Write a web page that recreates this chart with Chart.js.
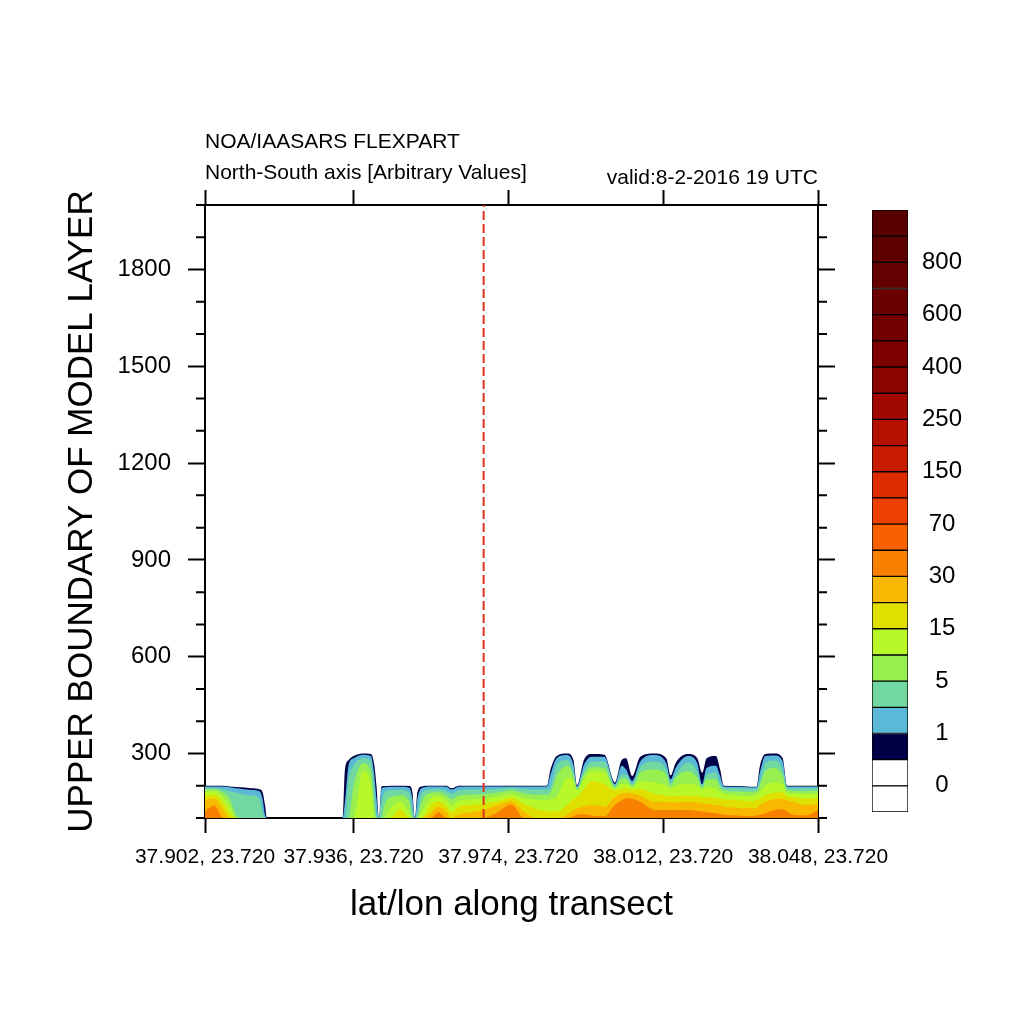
<!DOCTYPE html>
<html>
<head>
<meta charset="utf-8">
<title>FLEXPART transect</title>
<script src="https://cdn.jsdelivr.net/npm/chart.js@4.4.1/dist/chart.umd.min.js"></script>
<style>
  body { margin: 0; background: #fff; }
  canvas { position: absolute; left: 0; top: 0; }
</style>
</head>
<body>
<canvas id="sectionChart" width="1024" height="1024"></canvas>
<canvas id="colorbarChart" width="1024" height="1024"></canvas>
<script>
// grid index along the transect (0..99)
const xIndex = [0, 1.5, 3, 4, 5, 6, 7.5, 8.8, 9.3, 9.7,
  10, 22.2, 22.6, 23.2, 24, 25.5, 26.8, 27.3, 27.7, 28.1,
  28.5, 29, 30, 31.5, 33, 33.5, 33.9, 34.3, 35, 36.5,
  37.7, 39, 39.8, 41, 43, 45, 47, 49.5, 51.5, 53.5,
  55.2, 55.8, 56.8, 58.5, 59.5, 60.1, 61.2, 62.5, 64.5, 66.2,
  67.3, 68, 69, 70.3, 72.5, 74.5, 75.2, 76, 78, 79.5,
  80.3, 81, 82.5, 83.2, 83.8, 86, 88, 89.1, 89.6, 90.5,
  92, 93.3, 94, 95, 97, 99];
const xTickIndex = [0, 24, 49, 74, 99];
const xTickLabels = ['37.902, 23.720', '37.936, 23.720', '37.974, 23.720', '38.012, 23.720', '38.048, 23.720'];
const releaseIndex = 45;

// highest level (m) reached by each concentration class at every grid index
const top05 = [200, 200, 200, 198, 196, 195, 192, 189, 180, 140,
  100, 100, 250, 280, 292, 300, 298, 270, 200, 100,
  198, 199, 200, 200, 199, 180, 100, 180, 198, 200,
  200, 200, 192, 200, 200, 200, 200, 200, 200, 200,
  200, 250, 292, 300, 280, 202, 280, 298, 296, 210,
  280, 285, 230, 290, 300, 285, 232, 270, 298, 285,
  240, 285, 292, 250, 200, 199, 197, 197, 260, 298,
  300, 285, 200, 200, 200, 200];
const top1 = [198, 198, 198, 195, 192, 190, 187, 183, 160, 110,
  100, 100, 150, 265, 285, 296, 292, 240, 160, 100,
  190, 195, 197, 197, 194, 160, 100, 160, 193, 198,
  198, 197, 188, 197, 198, 198, 198, 198, 198, 198,
  198, 235, 285, 295, 265, 198, 265, 290, 290, 205,
  262, 250, 215, 275, 295, 270, 220, 255, 292, 270,
  205, 255, 262, 230, 198, 197, 195, 195, 240, 292,
  294, 275, 198, 198, 198, 198];
const top3 = [191, 192, 188, 183, 178, 174, 170, 160, 120, 100,
  100, 100, 100, 220, 262, 285, 275, 200, 110, 100,
  150, 180, 186, 187, 178, 120, 100, 120, 178, 188,
  191, 184, 176, 186, 188, 188, 190, 194, 190, 188,
  188, 195, 265, 280, 245, 194, 245, 275, 275, 200,
  235, 235, 205, 258, 275, 250, 210, 235, 272, 245,
  200, 235, 240, 205, 193, 192, 190, 190, 215, 270,
  278, 250, 193, 192, 192, 193];
const top5 = [188, 190, 178, 158, 110, 100, 100, 100, 100, 100,
  100, 100, 100, 100, 200, 270, 245, 150, 100, 100,
  100, 140, 165, 170, 150, 100, 100, 100, 150, 178,
  180, 170, 158, 170, 173, 174, 178, 185, 177, 172,
  172, 178, 230, 262, 230, 190, 235, 258, 255, 195,
  222, 222, 200, 240, 250, 235, 200, 225, 245, 225,
  195, 220, 220, 195, 185, 182, 180, 182, 200, 245,
  255, 230, 185, 184, 183, 185];
const top10 = [180, 182, 162, 135, 100, 100, 100, 100, 100, 100,
  100, 100, 100, 100, 100, 245, 200, 100, 100, 100,
  100, 100, 130, 152, 115, 100, 100, 100, 120, 162,
  168, 154, 140, 154, 157, 160, 165, 174, 162, 156,
  156, 158, 165, 225, 215, 185, 222, 245, 240, 190,
  205, 205, 195, 215, 210, 200, 190, 200, 205, 200,
  188, 195, 190, 182, 175, 170, 168, 172, 180, 200,
  210, 205, 178, 176, 174, 176];
const top15 = [169, 172, 145, 115, 100, 100, 100, 100, 100, 100,
  100, 100, 100, 100, 100, 100, 100, 100, 100, 100,
  100, 100, 100, 128, 100, 100, 100, 100, 100, 140,
  152, 136, 118, 136, 140, 144, 150, 162, 144, 128,
  122, 120, 120, 140, 160, 165, 190, 215, 205, 185,
  190, 192, 188, 190, 175, 170, 168, 168, 170, 168,
  165, 165, 162, 160, 158, 155, 152, 155, 160, 170,
  178, 180, 168, 165, 160, 162];
const top20 = [155, 160, 125, 100, 100, 100, 100, 100, 100, 100,
  100, 100, 100, 100, 100, 100, 100, 100, 100, 100,
  100, 100, 100, 100, 100, 100, 100, 100, 100, 115,
  135, 118, 100, 112, 118, 125, 138, 152, 120, 100,
  100, 100, 100, 110, 125, 130, 135, 140, 135, 165,
  175, 178, 176, 170, 150, 150, 148, 148, 150, 148,
  145, 145, 140, 138, 135, 132, 130, 132, 140, 150,
  158, 160, 155, 150, 140, 145];
const top30 = [122, 138, 100, 100, 100, 100, 100, 100, 100, 100,
  100, 100, 100, 100, 100, 100, 100, 100, 100, 100,
  100, 100, 100, 100, 100, 100, 100, 100, 100, 100,
  118, 100, 100, 100, 100, 100, 115, 142, 100, 100,
  100, 100, 100, 100, 105, 110, 112, 108, 105, 140,
  155, 162, 160, 150, 125, 125, 125, 125, 125, 122,
  120, 118, 115, 112, 110, 108, 105, 108, 110, 115,
  125, 128, 120, 110, 108, 125];

// colorbar: label text and the box edge it sits on
const cbLabelEdge = [1, 3, 5, 7, 9, 11, 13, 15, 17, 19, 21];
const cbLabels = ['0', '1', '5', '15', '30', '70', '150', '250', '400', '600', '800'];

const classes = [top05, top1, top3, top5, top10, top15, top20, top30];
const classColors = ['#000046', '#5ab9d6', '#70d8a0', '#98f050', '#b8f828', '#e0e000', '#f8b800', '#f88000'];
const cbColors = ['#ffffff', '#ffffff', '#000046', '#5ab9d6', '#70d8a0', '#98f050', '#b8f828', '#e0e000',
  '#f8b800', '#f88000', '#f86000', '#ee4000', '#dc2c00', '#c81c00', '#b41000', '#a00800',
  '#8a0400', '#7c0000', '#720000', '#6a0000', '#640000', '#5e0000', '#580000'];

Chart.defaults.font.family = "'Liberation Sans', Arial, sans-serif";
Chart.defaults.color = '#000';

const datasets = classes.map((h, k) => ({
  data: h.map((v, i) => ({ x: xIndex[i], y: v })),
  backgroundColor: classColors[k],
  borderWidth: 0,
  pointRadius: 0,
  fill: 'start',
  cubicInterpolationMode: 'monotone',
  order: classes.length - k
}));

datasets.push({
  data: [{ x: releaseIndex, y: 100 }, { x: releaseIndex, y: 2000 }],
  borderColor: '#e0301e',
  borderWidth: 2,
  borderDash: [9, 4],
  pointRadius: 0,
  fill: false,
  order: 0
});

const majorTick = c => (c.tick && c.tick.value % 300 === 0) ? '#000' : 'rgba(0,0,0,0)';

// short ticks every 100 m on both sides
const minorTicks = {
  id: 'minorTicks',
  afterDraw(chart) {
    const { ctx, chartArea, scales: { y } } = chart;
    ctx.save();
    ctx.strokeStyle = '#000';
    ctx.lineWidth = 2;
    y.ticks.forEach(t => {
      if (t.value % 300 === 0) return;
      const py = y.getPixelForValue(t.value);
      ctx.beginPath();
      ctx.moveTo(chartArea.left - 9, py);
      ctx.lineTo(chartArea.left, py);
      ctx.moveTo(chartArea.right, py);
      ctx.lineTo(chartArea.right + 9, py);
      ctx.stroke();
    });
    ctx.restore();
  }
};

new Chart(document.getElementById('sectionChart'), {
  type: 'line',
  data: { datasets: datasets },
  options: {
    responsive: false,
    animation: false,
    devicePixelRatio: 1,
    layout: { padding: 0 },
    scales: {
      x: {
        type: 'linear', position: 'bottom', min: 0, max: 99,
        afterBuildTicks: s => { s.ticks = xTickIndex.map(v => ({ value: v })); },
        afterFit: s => { s.height = 206; },
        ticks: { autoSkip: false, maxRotation: 0, padding: 12, font: { size: 21 }, callback: (v, i) => xTickLabels[i] },
        grid: { drawOnChartArea: false, tickLength: 15, tickWidth: 2, tickColor: '#000' },
        border: { color: '#000', width: 2 },
        title: { display: true, text: 'lat/lon along transect', font: { size: 35 }, padding: { top: 0, bottom: 98 } }
      },
      x2: {
        type: 'linear', position: 'top', min: 0, max: 99,
        afterBuildTicks: s => { s.ticks = xTickIndex.map(v => ({ value: v })); },
        afterFit: s => { s.height = 19.2; },
        ticks: { display: false },
        grid: { drawOnChartArea: false, tickLength: 15, tickWidth: 2, tickColor: '#000' },
        border: { color: '#000', width: 2 },
        title: { display: true, text: 'valid:8-2-2016 19 UTC', align: 'end', font: { size: 21 }, padding: { top: -20, bottom: 0 } }
      },
      y: {
        type: 'linear', position: 'left', min: 100, max: 2000,
        afterFit: s => { s.width = 205; },
        ticks: { stepSize: 100, autoSkip: false, padding: 17, font: { size: 24 }, callback: v => v % 300 === 0 ? String(v) : '' },
        grid: { drawOnChartArea: false, tickLength: 17, tickWidth: 2, tickColor: majorTick },
        border: { color: '#000', width: 2 },
        title: { display: true, text: 'UPPER BOUNDARY OF MODEL LAYER', font: { size: 35 }, padding: { top: 61, bottom: 0 } }
      },
      y2: {
        type: 'linear', position: 'right', min: 100, max: 2000,
        afterFit: s => { s.width = 206; },
        ticks: { stepSize: 100, autoSkip: false, display: false },
        grid: { drawOnChartArea: false, tickLength: 17, tickWidth: 2, tickColor: majorTick },
        border: { color: '#000', width: 2 }
      }
    },
    plugins: {
      legend: { display: false },
      tooltip: { enabled: false },
      title: { display: true, text: 'NOA/IAASARS FLEXPART', align: 'start', fullSize: false,
        font: { size: 21, weight: 'normal' }, padding: { top: 130, bottom: 0 } },
      subtitle: { display: true, text: 'North-South axis [Arbitrary Values]', align: 'start', fullSize: false,
        font: { size: 21, weight: 'normal' }, padding: { top: 5.4, bottom: 0 } }
    }
  },
  plugins: [minorTicks]
});

new Chart(document.getElementById('colorbarChart'), {
  type: 'bar',
  data: {
    labels: [''],
    datasets: cbColors.map(c => ({
      data: [1],
      backgroundColor: c,
      borderColor: '#000',
      borderWidth: 1,
      borderSkipped: false,
      barPercentage: 1,
      categoryPercentage: 1
    }))
  },
  options: {
    responsive: false,
    animation: false,
    devicePixelRatio: 1,
    layout: { padding: { left: 872, top: 210, bottom: 212, right: 0 } },
    scales: {
      x: { display: false, stacked: true },
      y: {
        stacked: true, position: 'right', min: 0, max: cbColors.length,
        afterFit: s => { s.width = 116; },
        afterBuildTicks: s => { s.ticks = cbLabelEdge.map(v => ({ value: v })); },
        ticks: { padding: 14, crossAlign: 'center', font: { size: 24 }, callback: (v, i) => cbLabels[i] },
        grid: { display: false, drawTicks: false },
        border: { display: false }
      }
    },
    plugins: { legend: { display: false }, tooltip: { enabled: false } }
  }
});
</script>
</body>
</html>
